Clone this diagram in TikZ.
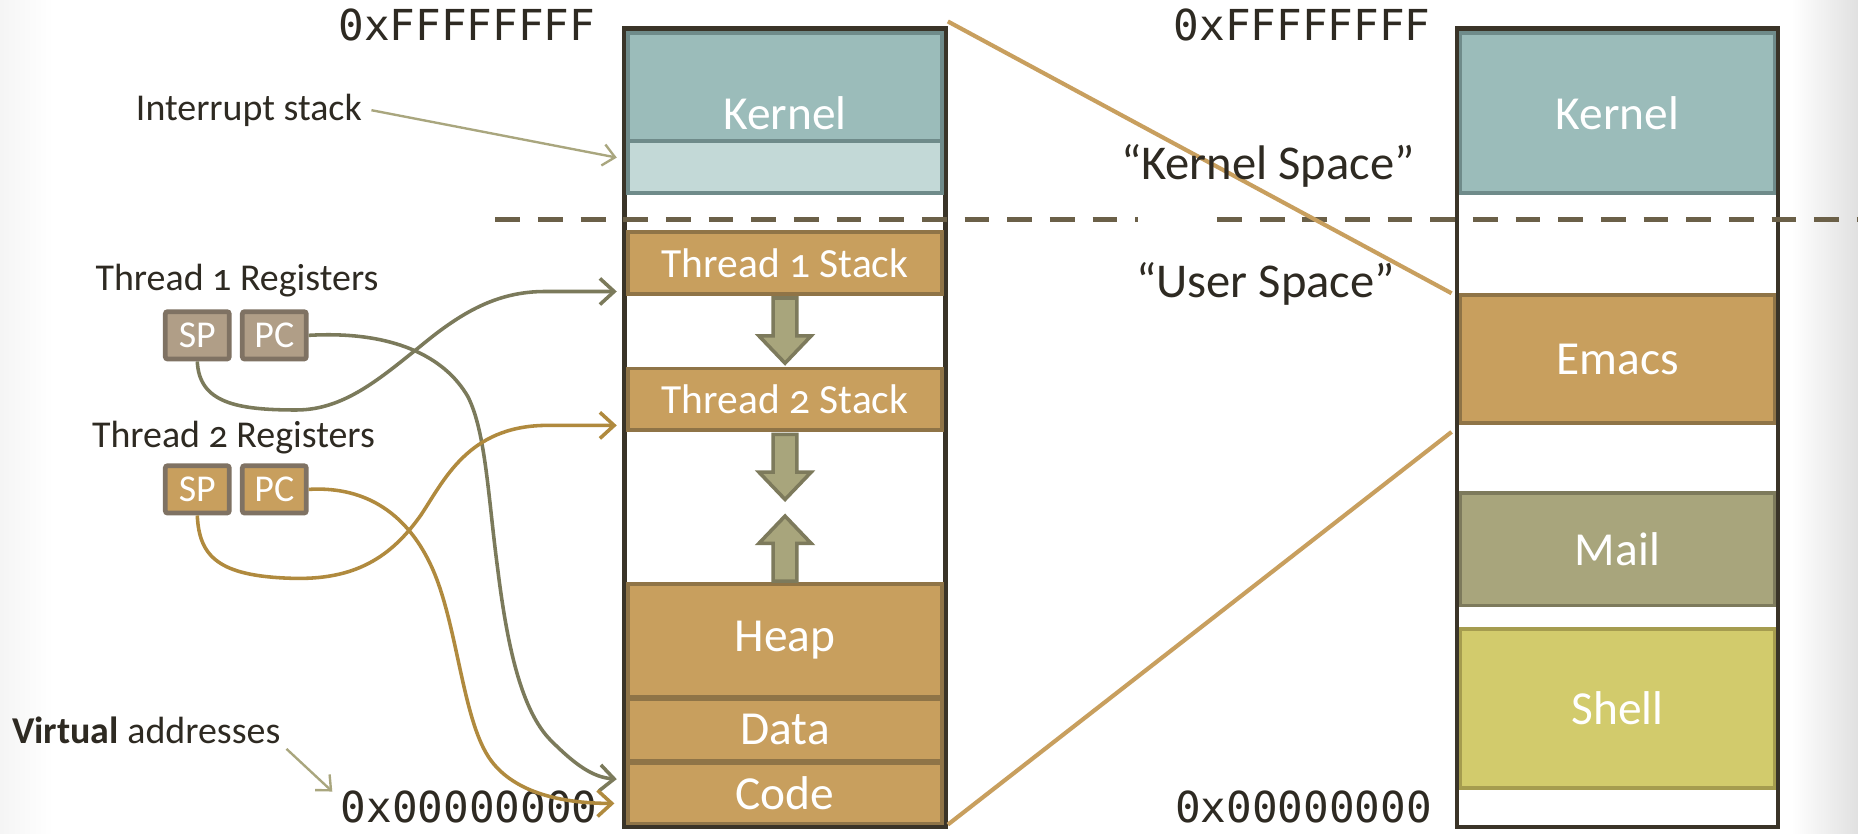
\documentclass[tikz,border=0pt]{standalone}
\usepackage{fontspec}
\setmainfont{Carlito}[Numbers=OldStyle]
\newfontfamily\hexfont{DejaVu Sans Mono}
\usetikzlibrary{arrows.meta,calc}
\definecolor{tealF}{HTML}{9BBCBA}
\definecolor{tealD}{HTML}{6F8B8A}
\definecolor{tealL}{HTML}{C3D9D7}
\definecolor{goldF}{HTML}{C89F5E}
\definecolor{goldD}{HTML}{8F7447}
\definecolor{oliveF}{HTML}{A8A57C}
\definecolor{oliveD}{HTML}{7D7A5C}
\definecolor{shellF}{HTML}{D2CB6C}
\definecolor{shellD}{HTML}{A59C4F}
\definecolor{taupeF}{HTML}{B09E87}
\definecolor{regD}{HTML}{7F7263}
\definecolor{colD}{HTML}{3A3428}
\definecolor{txtD}{HTML}{2E2A22}
\definecolor{dashC}{HTML}{6B6048}
\definecolor{curveO}{HTML}{7B7A5B}
\definecolor{curveG}{HTML}{B08A3E}
\definecolor{thinA}{HTML}{A9A67E}
\tikzset{
  column/.style={draw=colD, line width=3.8pt, fill=white, minimum width=271pt, minimum height=674pt, inner sep=0pt},
  seg/.style={line width=3pt, minimum width=265pt, inner sep=0pt, text=white, font=\fontsize{40}{48}\selectfont},
  kseg/.style={seg, fill=tealF, draw=tealD},
  gseg/.style={seg, fill=goldF, draw=goldD},
  tseg/.style={gseg, font=\fontsize{35}{42}\selectfont},
  reg/.style={draw=regD, line width=4pt, rounded corners=2pt, minimum width=54pt, minimum height=40pt, inner sep=0pt, text=white, font=\fontsize{32}{36}\selectfont},
  lbl/.style={text=txtD, font=\fontsize{32}{38}\selectfont, inner sep=0pt},
  bigl/.style={text=txtD, font=\fontsize{41}{48}\selectfont, inner sep=0pt},
  hex/.style={text=txtD, font=\hexfont\fontsize{36}{40}\selectfont, inner sep=0pt},
  barrow/.style={fill=oliveF, draw=oliveD, line width=3pt, line join=miter},
  downarrow/.pic={\draw[barrow] (-10,0) -- (-10,32) -- (-22,32) -- (0,55) -- (22,32) -- (10,32) -- (10,0) -- cycle;},
  regcurve/.style={line width=3pt, -{Straight Barb[length=12pt,width=22pt,line width=3pt]}},
  thinarrow/.style={draw=thinA, line width=2pt, -{Straight Barb[length=10pt,width=18pt,line width=2pt]}},
  dashline/.style={draw=dashC, line width=4.5pt, dash pattern=on 21pt off 15pt},
  zoomline/.style={draw=goldF, line width=3.5pt}
}
\begin{document}
\begin{tikzpicture}[x=1pt,y=-1pt]
\useasboundingbox (0,0) rectangle (1568,703);
\fill[white] (0,0) rectangle (1568,703);
\shade[left color=white, right color=black!12] (1512,0) rectangle (1568,703);
\shade[left color=black!4, right color=white] (0,0) rectangle (45,703);

% columns
\node[column] (lcol) at (662.5,361) {};
\node[column] (rcol) at (1365,361) {};

% left column segments
\node[kseg, minimum height=135pt] (lkern) at (662.5,95.5) {Kernel};
\node[seg, fill=tealL, draw=tealD, minimum height=44pt] (istack) at (662.5,141) {};
\node[tseg, minimum height=52pt] (t1s) at (662.5,222) {Thread 1 Stack};
\node[tseg, minimum height=52pt] (t2s) at (662.5,337) {Thread 2 Stack};
\node[gseg, minimum height=95pt] (heap) at (662.5,540.5) {Heap};
\node[gseg, minimum height=52pt] (data) at (662.5,616) {Data};
\node[gseg, minimum height=51pt] (code) at (662.5,669.5) {Code};

\pic at ([yshift=-2pt]t1s.south) {downarrow};
\pic at ([yshift=-2pt]t2s.south) {downarrow};
\pic[yscale=-1] at ([yshift=1pt]heap.north) {downarrow};

% right column segments
\node[kseg, minimum height=135pt] (rkern) at (1365,95.5) {Kernel};
\node[gseg, minimum height=108pt] (emacs) at (1365,303) {Emacs};
\node[seg, fill=oliveF, draw=oliveD, minimum height=95pt] (mail) at (1365,463.5) {Mail};
\node[seg, fill=shellF, draw=shellD, minimum height=134pt] (shell) at (1365,598) {Shell};

% dashed boundary
\draw[dashline] (418,185) -- (960,185);
\draw[dashline] (1027,185) -- (1568,185);

% zoom lines
\draw[zoomline] ([yshift=4pt]lcol.north east) -- ([xshift=-6pt]emacs.north west);
\draw[zoomline] ([yshift=4pt]lcol.south east) -- ([xshift=-6pt,yshift=-6pt]emacs.south west);

% address labels
\node[hex] (lff) at (394,21) {0xFFFFFFFF};
\node[hex] (rff) at (1099,21) {0xFFFFFFFF};
\node[hex] (l00) at (396,681) {0x00000000};
\node[hex] (r00) at (1100,681) {0x00000000};

\node[bigl] (ks) at (1070,140) {``Kernel Space''};
\node[bigl] (us) at (1068,240) {``User Space''};

% left labels
\node[lbl] (lint) at (210,93) {Interrupt stack};
\node[lbl] (t1r) at (200,237) {Thread 1 Registers};
\node[lbl] (t2r) at (197,369) {Thread 2 Registers};
\node[lbl, anchor=west] (virt) at (10,616) {\bfseries Virtual\mdseries\ addresses};

% registers
\node[reg, fill=taupeF] (sp1) at (166.5,283) {SP};
\node[reg, fill=taupeF] (pc1) at (231.5,283) {PC};
\node[reg, fill=goldF] (sp2) at (166.5,413) {SP};
\node[reg, fill=goldF] (pc2) at (231.5,413) {PC};

% thin annotation arrows
\draw[thinarrow] (lint.east) ++(8,0) coordinate (lintA) (lintA) -- ([xshift=-8pt,yshift=8pt]istack.west);
\draw[thinarrow] ([xshift=5pt,yshift=-16pt]virt.east) -- ([xshift=-7pt,yshift=13pt]l00.west);

% register curves
\draw[regcurve, draw=curveO] (sp1.south) .. controls (168,340) and (200,346) .. (250,346)
  .. controls (290,346) and (320,320) .. (355,292)
  .. controls (390,263) and (420,246) .. (460,246) -- ([xshift=-8pt,yshift=-24pt]t1s.west);
\draw[regcurve, draw=curveO] (pc1.east) .. controls (330,279) and (375,300) .. (395,335)
  .. controls (410,365) and (412,420) .. (420,480)
  .. controls (428,545) and (440,600) .. (465,625)
  .. controls (485,645) and (500,656) .. ([xshift=-8pt,yshift=12pt]code.west);
\draw[regcurve, draw=curveG] (sp2.south) .. controls (168,470) and (185,486) .. (245,488)
  .. controls (300,490) and (330,470) .. (355,435)
  .. controls (375,405) and (395,360) .. (460,359) -- ([xshift=-8pt,yshift=-22pt]t2s.west);
\draw[regcurve, draw=curveG] (pc2.east) .. controls (310,410) and (345,435) .. (365,480)
  .. controls (385,525) and (390,600) .. (410,635)
  .. controls (425,662) and (460,678) .. ([xshift=-10pt,yshift=-8.5pt]code.west);
\end{tikzpicture}
\end{document}
